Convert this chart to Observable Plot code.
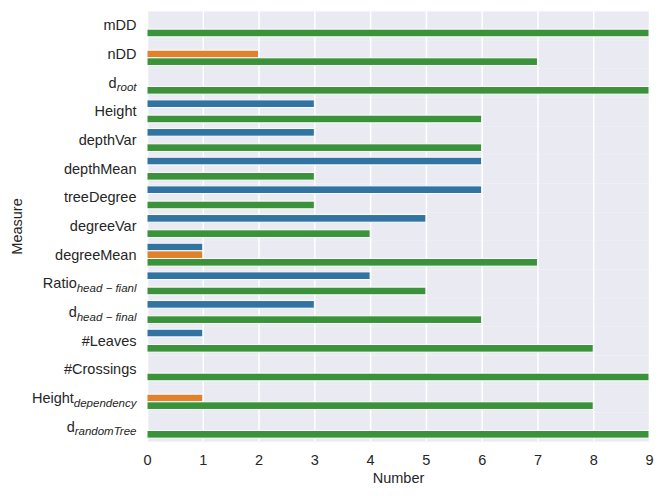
<!DOCTYPE html>
<html>
<head>
<meta charset="utf-8">
<script src="https://cdn.jsdelivr.net/npm/d3@7"></script>
<script src="https://cdn.jsdelivr.net/npm/@observablehq/plot@0.6"></script>
<style>
  html, body { margin: 0; padding: 0; background: white; }
</style>
</head>
<body>
<div id="chart"></div>
<script>
// Category labels (base text + optional subscript)
const labelBase = ["mDD", "nDD", "d", "Height", "depthVar", "depthMean", "treeDegree", "degreeVar", "degreeMean", "Ratio", "d", "#Leaves", "#Crossings", "Height", "d"];
const labelSub  = ["", "", "root", "", "", "", "", "", "", "head − fianl", "head − final", "", "", "dependency", "randomTree"];
const categories = labelBase.map((b, i) => labelSub[i] ? b + "_" + labelSub[i] : b);

// Three hue groups (no legend in the reference)
const hues = ["group1", "group2", "group3"];
const hueColors = ["#3274a1", "#e1812c", "#3a923a"];

const blueValues   = [0, 0, 0, 3, 3, 6, 6, 5, 1, 4, 3, 1, 0, 0, 0];
const orangeValues = [0, 2, 0, 0, 0, 0, 0, 0, 1, 0, 0, 0, 0, 1, 0];
const greenValues  = [9, 7, 9, 6, 6, 3, 3, 4, 7, 5, 6, 8, 9, 8, 9];

const xTicks = [0, 1, 2, 3, 4, 5, 6, 7, 8, 9];

const seriesValues = [blueValues, orangeValues, greenValues];
const data = categories.flatMap((c, i) =>
  hues.map((h, j) => ({category: c, hue: h, value: seriesValues[j][i]}))
);

const FONT = "'Liberation Sans', Arial, sans-serif";

const chart = Plot.plot({
  width: 665,
  height: 496,
  marginLeft: 147,
  marginRight: 16,
  marginTop: 11,
  marginBottom: 55,
  style: {fontFamily: FONT, fontSize: "14.5px", background: "white", color: "#262626"},
  x: {domain: [0, 9], ticks: xTicks},
  fy: {domain: categories, padding: 0, round: false},
  y: {domain: hues, paddingInner: 0, paddingOuter: 0.375, round: false, axis: null},
  color: {domain: hues, range: hueColors},
  marks: [
    Plot.frame({fill: "#EAEAF2", stroke: null}),
    Plot.gridX(xTicks, {stroke: "white", strokeOpacity: 1, strokeWidth: 1.5}),
    Plot.barX(data, {x: "value", y: "hue", fy: "category", fill: "hue", stroke: "white", strokeWidth: 1}),
    Plot.axisX(xTicks, {tickSize: 0, tickPadding: 13, fontSize: 14.5, label: "Number", labelAnchor: "center", labelArrow: "none", labelOffset: 41}),
    Plot.axisFy({anchor: "left", tickSize: 0, tickPadding: 11, fontSize: 14.5, label: "Measure", labelAnchor: "center", labelArrow: "none", labelOffset: 136})
  ]
});

document.getElementById("chart").appendChild(chart);

// Render subscripts as real tspans
d3.select(chart).selectAll("text").each(function() {
  const t = this.textContent;
  const i = categories.indexOf(t);
  if (i >= 0 && labelSub[i]) {
    const sel = d3.select(this);
    sel.text(labelBase[i]);
    sel.append("tspan")
      .attr("dy", "3.5")
      .attr("font-size", "11.5")
      .attr("font-style", "italic")
      .text(labelSub[i]);
  }
});
</script>
</body>
</html>
